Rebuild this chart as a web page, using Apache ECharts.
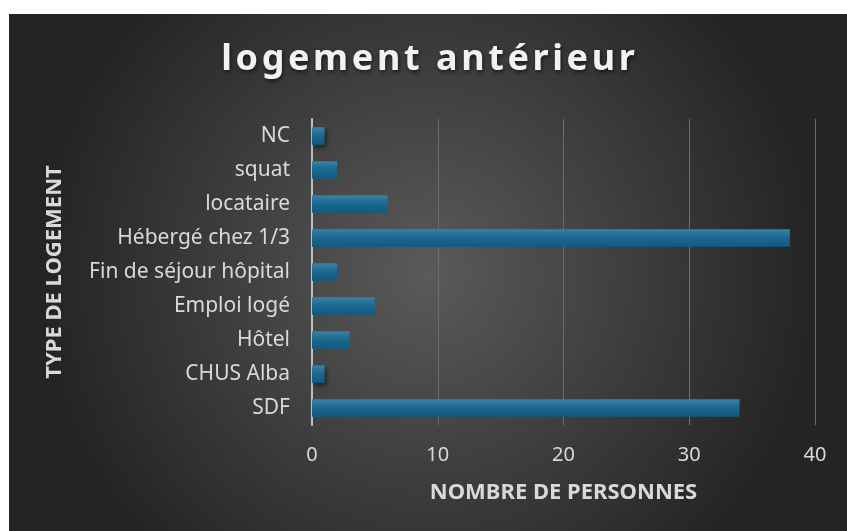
<!DOCTYPE html>
<html>
<head>
<meta charset="utf-8">
<script src="https://cdn.jsdelivr.net/npm/echarts@6/dist/echarts.min.js"></script>
<style>
  html, body { margin: 0; padding: 0; background: #fff; }
  #chart { position: absolute; left: 9px; top: 14px; width: 838px; height: 517px; }
</style>
</head>
<body>
<div id="chart"></div>
<script>
// categories bottom to top, as in the picture
let categories = ['SDF', 'CHUS Alba', 'Hôtel', 'Emploi logé', 'Fin de séjour hôpital',
    'Hébergé chez 1/3', 'locataire', 'squat', 'NC'];
let personnes = [34, 1, 3, 5, 2, 38, 6, 2, 1];
let xTicks = [0, 10, 20, 30, 40];

let titre = 'logement antérieur';
let font = '"Noto Sans", sans-serif';

// spread the title letters a bit (hair spaces), the original is letter-spaced
let titreEspace = titre.split('').join('\u200A');

let option = {
    backgroundColor: {
        type: 'radial',
        x: 0.5, y: 0.5, r: 0.75,
        colorStops: [
            {offset: 0, color: '#5a5a5a'},
            {offset: 1, color: '#242424'}
        ]
    },
    title: {
        text: titreEspace,
        left: 'center',
        top: 23,
        textStyle: {
            color: '#f2f2f2',
            fontFamily: font,
            fontSize: 36,
            fontWeight: 'bold',
            textShadowColor: 'rgba(0,0,0,0.6)',
            textShadowBlur: 4,
            textShadowOffsetX: 1,
            textShadowOffsetY: 2
        }
    },
    grid: {
        left: 303,
        right: 32,
        top: 105,
        bottom: 106
    },
    xAxis: {
        type: 'value',
        min: xTicks[0],
        max: xTicks[xTicks.length - 1],
        interval: 10,
        name: 'NOMBRE DE PERSONNES',
        nameLocation: 'middle',
        nameGap: 57,
        nameTextStyle: {
            color: '#d9d9d9',
            fontFamily: font,
            fontSize: 22,
            fontWeight: 'bold'
        },
        axisLine: {show: false},
        axisTick: {show: false},
        axisLabel: {
            color: '#d9d9d9',
            fontFamily: font,
            fontSize: 20,
            margin: 20
        },
        splitLine: {
            lineStyle: {color: '#6c6c6c', width: 1}
        }
    },
    yAxis: {
        type: 'category',
        data: categories,
        name: 'TYPE DE LOGEMENT',
        nameLocation: 'middle',
        nameRotate: 90,
        nameGap: 246,
        nameMoveOverlap: false,
        nameTextStyle: {
            color: '#d9d9d9',
            fontFamily: font,
            fontSize: 22,
            fontWeight: 'bold'
        },
        axisLine: {
            lineStyle: {color: '#bfbfbf', width: 2}
        },
        axisTick: {show: false},
        axisLabel: {
            color: '#d9d9d9',
            fontFamily: font,
            fontSize: 21,
            margin: 22
        }
    },
    series: [{
        type: 'bar',
        data: personnes,
        barWidth: '52%',
        itemStyle: {
            color: {
                type: 'linear',
                x: 0, y: 0, x2: 0, y2: 1,
                colorStops: [
                    {offset: 0, color: '#3b82a8'},
                    {offset: 0.45, color: '#1c6990'},
                    {offset: 1, color: '#0f5a80'}
                ]
            },
            shadowColor: 'rgba(0,0,0,0.5)',
            shadowBlur: 4,
            shadowOffsetX: 2,
            shadowOffsetY: 3
        }
    }]
};

echarts.init(document.getElementById('chart')).setOption(option);
</script>
</body>
</html>
